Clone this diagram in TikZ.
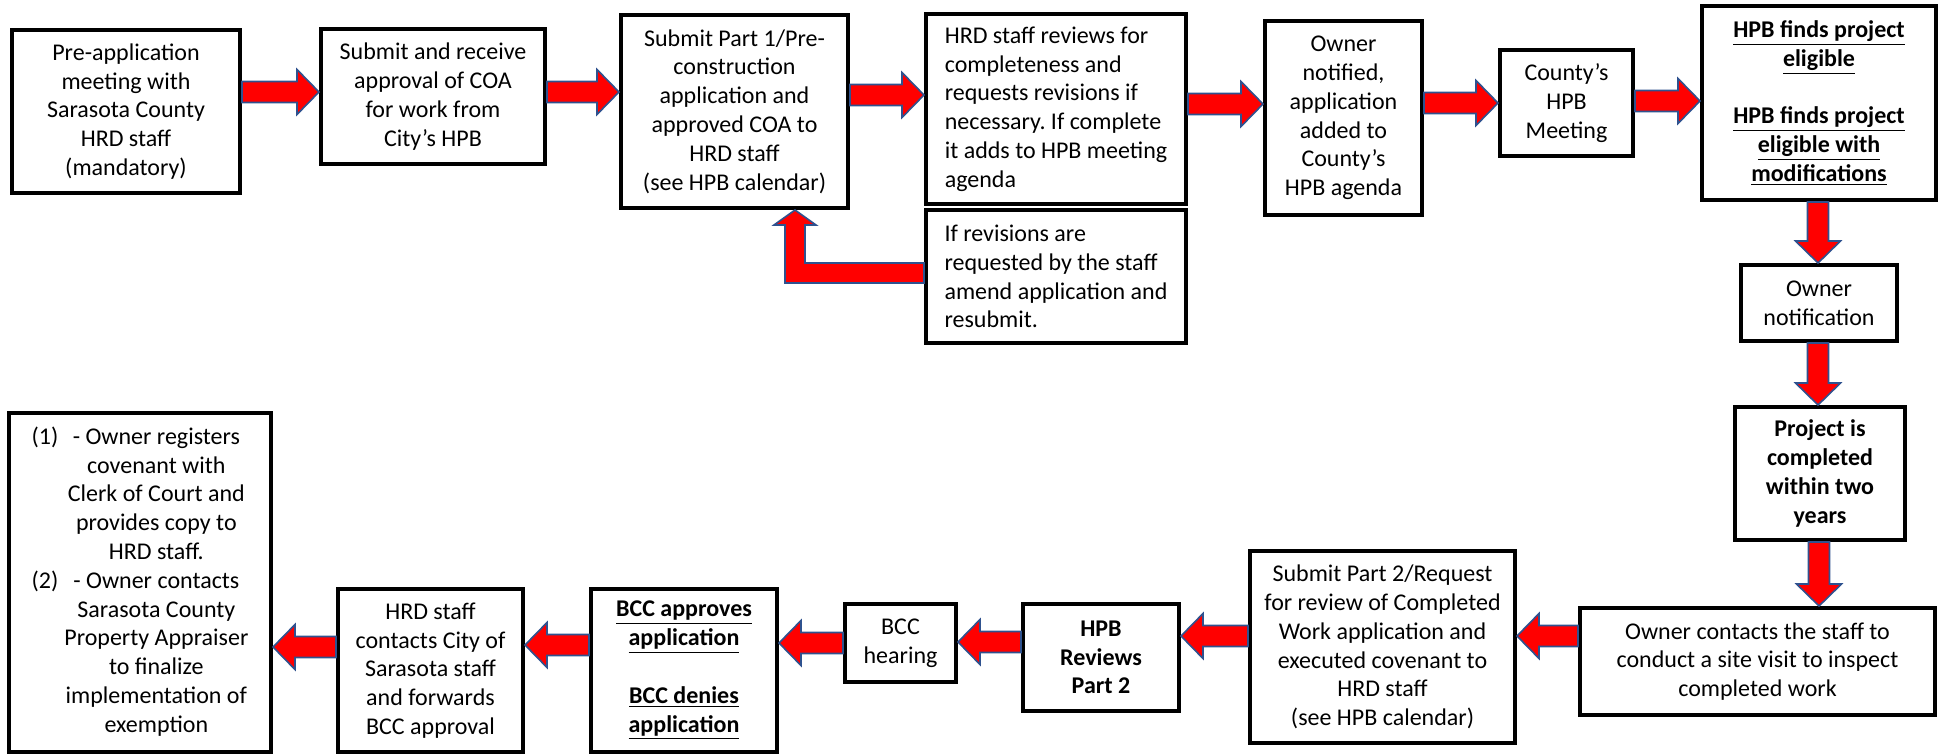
\documentclass[tikz,border=0pt]{standalone}
\usepackage{fontspec}
\setmainfont{Carlito}
\usetikzlibrary{calc}
\frenchspacing

\definecolor{arrowline}{RGB}{47,82,143}

% block arrow from #1 to #2 (any direction)
\newcommand{\blockarrow}[2]{%
  \coordinate (ba) at (#1);
  \coordinate (bb) at (#2);
  \coordinate (bh) at ($(bb)!11pt!(ba)$);
  \draw[redarrow] ($(ba)!5.25pt!90:(bb)$) -- ($(bh)!5.25pt!90:(bb)$) -- ($(bh)!11.25pt!90:(bb)$) -- (bb)
    -- ($(bh)!11.25pt!-90:(bb)$) -- ($(bh)!5.25pt!-90:(bb)$) -- ($(ba)!5.25pt!-90:(bb)$) -- cycle;
}

\begin{document}
\begin{tikzpicture}
  [
    x=0.5pt, y=-0.5pt,
    box/.style={draw, line width=2pt, outer sep=1pt, inner sep=0pt, align=center, font=\fontsize{12}{14.4}\selectfont},
    boldbox/.style={box, font=\fontsize{12}{14.4}\selectfont\bfseries},
    boxsize/.style 2 args={minimum width=#1*0.5pt, minimum height=#2*0.5pt},
    redarrow/.style={fill=red, draw=arrowline, line width=0.8pt, line join=miter}
  ]
  \useasboundingbox (0,0) rectangle (1938,754);

  % Top row (x, y in pixels)
  \node[box, boxsize={228}{163}] (A) at (126,111.5) {Pre-application\\meeting with\\Sarasota County\\HRD staff\\(mandatory)};
  \node[box, boxsize={224}{135}] (B) at (433,96.5) {Submit and receive\\approval of COA\\for work from\\City’s HPB};
  \node[box, boxsize={227}{193}] (C) at (734.5,111.5) {Submit Part 1/Pre-\\construction\\application and\\approved COA to\\HRD staff\\(see HPB calendar)};
  \node[box, align=left, boxsize={260}{190}] (D) at (1056,109) {HRD staff reviews for\\completeness and\\requests revisions if\\necessary. If complete\\it adds to HPB meeting\\agenda};
  \node[box, align=left, boxsize={260}{133}] (E) at (1056,276.5) {If revisions are\\requested by the staff\\amend application and\\resubmit.};
  \node[box, boxsize={157}{194}] (F) at (1343.5,118) {Owner\\notified,\\application\\added to\\County’s\\HPB agenda};
  \node[box, boxsize={133}{106}] (G) at (1566.5,103) {County’s\\HPB\\Meeting};
  \node[boldbox, boxsize={234}{194}] (H) at (1819,103) {\underline{HPB finds project}\\\underline{eligible}\\[14.4pt]\underline{HPB finds project}\\\underline{eligible with}\\\underline{modifications}};

  % Right column
  \node[box, boxsize={156}{76}] (I) at (1819,303) {Owner\\notification};
  \node[boldbox, boxsize={170}{133}] (J) at (1820,473.5) {Project is\\completed\\within two\\years};
  \node[box, boxsize={355}{107}] (K) at (1757.5,661.5) {Owner contacts the staff to\\conduct a site visit to inspect\\completed work};

  % Bottom row
  \node[box, boxsize={265}{192}] (L) at (1382.5,647) {Submit Part 2/Request\\for review of Completed\\Work application and\\executed covenant to\\HRD staff\\(see HPB calendar)};
  \node[boldbox, boxsize={156}{107}] (M) at (1101,657.5) {HPB\\Reviews\\Part 2};
  \node[box, boxsize={111}{78}] (N) at (900.5,643) {BCC\\hearing};
  \node[boldbox, boxsize={186}{163}] (O) at (684,670.5) {\underline{BCC approves}\\\underline{application}\\[14.4pt]\underline{BCC denies}\\\underline{application}};
  \node[box, boxsize={185}{163}] (P) at (430.5,670.5) {HRD staff\\contacts City of\\Sarasota staff\\and forwards\\BCC approval};
  \node[box, boxsize={262}{339}] (Q) at (140,582.5) {\begin{tabular}{@{}l@{\hspace{3pt}}c@{}}
    (1) & - Owner registers\\ & covenant with\\ & Clerk of Court and\\ & provides copy to\\ & HRD staff.\\
    (2) & - Owner contacts\\ & Sarasota County\\ & Property Appraiser\\ & to finalize\\ & implementation of\\ & exemption
  \end{tabular}};

  % Arrows, top row
  \blockarrow{A.east |- 0,92}{B.west |- 0,92}
  \blockarrow{B.east |- 0,92}{C.west |- 0,92}
  \blockarrow{C.east |- 0,95}{D.west |- 0,95}
  \blockarrow{D.east |- 0,104}{F.west |- 0,104}
  \blockarrow{F.east |- 0,103}{G.west |- 0,103}
  \blockarrow{G.east |- 0,101}{H.west |- 0,101}
  % revisions back to Part 1
  \draw[redarrow] (E.west |- 0,263) -- (805,263) -- (805,225) -- (816,225) -- (C.south -| 795,0)
    -- (774,225) -- (785,225) -- (785,283) -- (E.west |- 0,283) -- cycle;

  % Arrows, right column
  \blockarrow{H.south -| 1818,0}{I.north -| 1818,0}
  \blockarrow{I.south -| 1818,0}{J.north -| 1818,0}
  \blockarrow{J.south -| 1819,0}{K.north -| 1819,0}

  % Arrows, bottom row
  \blockarrow{K.west |- 0,636}{L.east |- 0,636}
  \blockarrow{L.west |- 0,636}{M.east |- 0,636}
  \blockarrow{M.west |- 0,642}{N.east |- 0,642}
  \blockarrow{N.west |- 0,643}{O.east |- 0,643}
  \blockarrow{O.west |- 0,645}{P.east |- 0,645}
  \blockarrow{P.west |- 0,647}{Q.east |- 0,647}

\end{tikzpicture}
\end{document}
